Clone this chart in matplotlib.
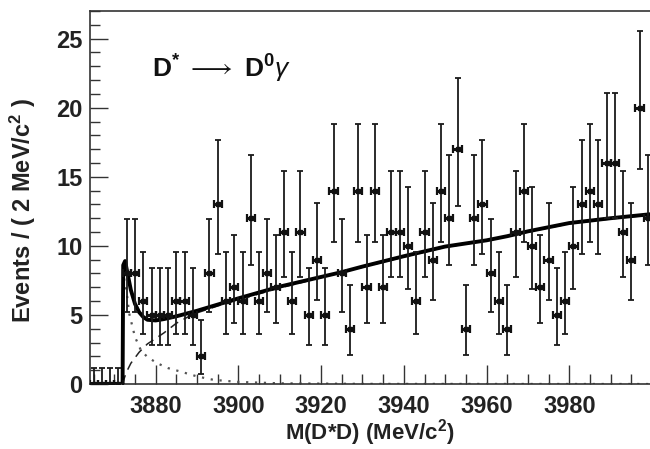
import matplotlib
matplotlib.use("Agg")
import matplotlib.pyplot as plt
from matplotlib.ticker import MultipleLocator

plt.rcParams['font.family'] = ['Liberation Sans', 'DejaVu Sans']
plt.rcParams['mathtext.fontset'] = 'custom'
plt.rcParams['mathtext.rm'] = 'Liberation Sans:bold'
plt.rcParams['mathtext.it'] = 'Liberation Sans:italic'
plt.rcParams['mathtext.bf'] = 'Liberation Sans:bold'

# ---- data (2 MeV bins) ----
bin_centers = list(range(3865, 4001, 2))
counts = [0, 0, 0, 0, 8, 8, 6, 5, 5, 5, 6, 6, 5, 2, 8, 13, 6, 7, 6, 12,
          6, 8, 7, 11, 6, 11, 5, 9, 5, 14, 8, 4, 14, 7, 14, 7, 11, 11, 10, 6,
          11, 9, 14, 12, 17, 4, 12, 13, 8, 6, 4, 11, 14, 10, 7, 9, 5, 6, 10, 13,
          14, 13, 16, 16, 11, 9, 20, 12]

# Poisson 68% interval table (low, high) used for the error bars
poisson_err = {0: (0.0, 1.148), 1: (0.827, 2.299), 2: (1.292, 2.638), 3: (1.633, 2.918),
               4: (1.914, 3.162), 5: (2.159, 3.382), 6: (2.380, 3.583), 7: (2.581, 3.770),
               8: (2.768, 3.945), 9: (2.943, 4.109), 10: (3.108, 4.264), 11: (3.265, 4.412),
               12: (3.414, 4.553), 13: (3.558, 4.689), 14: (3.695, 4.819), 15: (3.828, 4.945),
               16: (3.957, 5.067), 17: (4.082, 5.185), 18: (4.204, 5.300), 19: (4.321, 5.412),
               20: (4.437, 5.521)}

# fit curves
total_x = [3864, 3872.0, 3872.15, 3872.6, 3873, 3874, 3875, 3876, 3877, 3878, 3880,
           3882, 3885, 3890, 3900, 3910, 3920, 3925, 3930, 3940, 3945, 3950, 3960,
           3965, 3970, 3980, 3990, 4000]
total_y = [0, 0, 8.6, 8.9, 8.3, 6.8, 5.8, 5.2, 4.85, 4.65, 4.6,
           4.7, 4.9, 5.3, 6.2, 7.05, 7.75, 8.1, 8.5, 9.25, 9.6, 9.95, 10.4,
           10.7, 11.05, 11.65, 12.0, 12.3]

bkg_x = [3872.0, 3872.5, 3873, 3874, 3876, 3878, 3880, 3882, 3885, 3889, 3895, 3900,
         3910, 3920, 3930, 3940, 3950, 3960, 3970, 3980, 3990, 4000]
bkg_y = [0, 0.5, 0.9, 1.5, 2.3, 2.9, 3.3, 3.7, 4.4, 5.05, 5.65, 6.1,
         6.95, 7.7, 8.45, 9.2, 9.9, 10.37, 11.0, 11.6, 11.95, 12.25]

sig_x = [3872.0, 3872.15, 3873, 3873.6, 3875, 3876.4, 3878, 3880.4, 3883, 3886,
         3890, 3894, 3900, 3910, 3930, 4000]
sig_y = [0, 8.0, 6.6, 5.1, 3.4, 2.46, 1.95, 1.5, 1.15, 0.9,
         0.55, 0.3, 0.15, 0.05, 0.01, 0]

xticks = [3880, 3900, 3920, 3940, 3960, 3980]
yticks = [0, 5, 10, 15, 20, 25]

# ---- figure ----
fig = plt.figure(figsize=(6.5, 4.49), dpi=100)
ax = fig.add_axes([89.5 / 650, 65 / 449, (652 - 89.5) / 650, (438 - 65) / 449])

lo = [poisson_err[c][0] for c in counts]
hi = [poisson_err[c][1] for c in counts]

ax.plot(sig_x, sig_y, color='#555555', lw=1.6, linestyle=(0, (1, 3)), zorder=2)
ax.plot(bkg_x, bkg_y, color='#222222', lw=1.1, linestyle=(0, (6, 4)), zorder=2)
ax.plot(total_x, total_y, color='black', lw=2.8, zorder=3)

ax.errorbar(bin_centers, counts, yerr=[lo, hi], fmt='none', ecolor='#1a1a1a',
            elinewidth=1.3, capsize=2.3, capthick=1.3, zorder=4)
ax.errorbar(bin_centers, counts, xerr=1, fmt='s', color='#111111', ms=3.4,
            elinewidth=2.2, capsize=2.6, capthick=1.6, zorder=5)

ax.set_xlim(3864, 4000)
ax.set_ylim(0, 27)
ax.set_xticks(xticks)
ax.set_yticks(yticks)
ax.xaxis.set_minor_locator(MultipleLocator(5))
ax.yaxis.set_minor_locator(MultipleLocator(1))
ax.tick_params(axis='x', which='major', direction='in', length=14, width=1.0,
               pad=8.0, labelsize=17, color='#333333')
ax.tick_params(axis='x', which='minor', direction='in', length=7, width=1.0, color='#333333')
ax.tick_params(axis='y', which='major', direction='in', length=13, width=1.0,
               pad=5.0, labelsize=17, color='#333333')
ax.tick_params(axis='y', which='minor', direction='in', length=7, width=1.0, color='#333333')
for lab in ax.get_xticklabels() + ax.get_yticklabels():
    lab.set_fontweight('bold')
    lab.set_color('#222222')

for s in ['left', 'top', 'bottom']:
    ax.spines[s].set_color('#333333')
    ax.spines[s].set_linewidth(1.2)
ax.spines['right'].set_visible(False)

fig.text(370 / 650, 1 - 433 / 449, r'M(D*D) (MeV/c$^\mathbf{2}$)', ha='center', va='center',
         fontsize=16, fontweight='bold', color='#222222')
fig.text(23 / 650, 1 - 211 / 449, r'Events / ( 2 MeV/c$^\mathbf{2}$ )', ha='center', va='center',
         rotation=90, fontsize=17, fontweight='bold', color='#222222')
ax.text(3879, 22.2, r'D$^{\mathbf{*}}$ $\longrightarrow$ D$^{\mathrm{0}}\gamma$', fontsize=19,
        fontweight='bold', color='#111111', ha='left', va='baseline')

fig.savefig('out.png', dpi=100)
